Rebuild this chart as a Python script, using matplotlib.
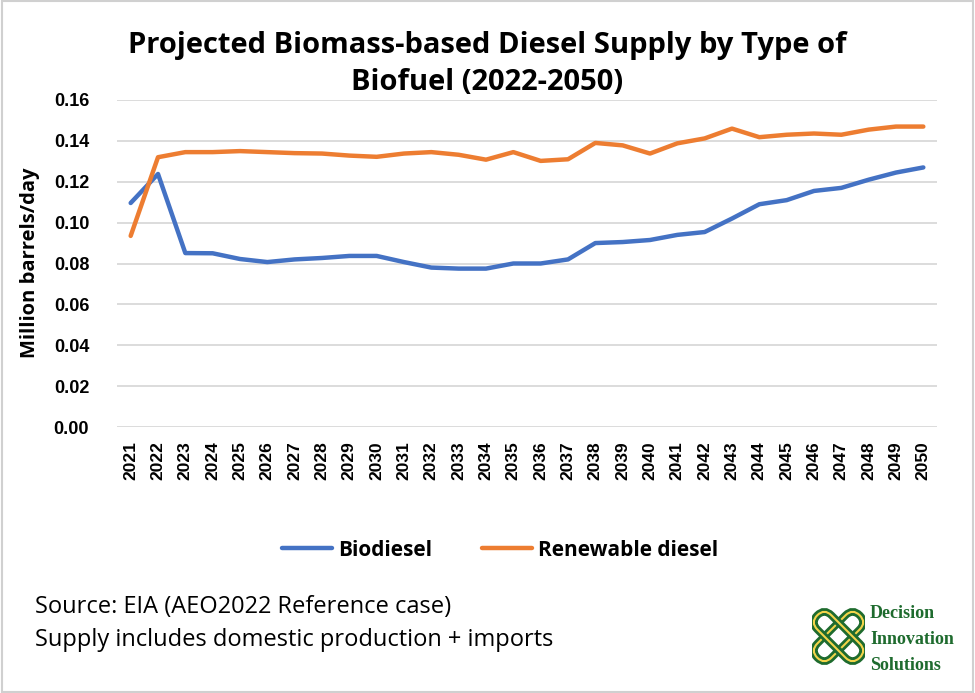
import matplotlib.pyplot as plt
from matplotlib.patches import FancyBboxPatch, Rectangle
import matplotlib.transforms as mtransforms

years = list(range(2021, 2051))
biodiesel = [0.1096, 0.1238, 0.0851, 0.0850, 0.0822, 0.0807, 0.0820, 0.0827, 0.0837, 0.0837,
             0.0807, 0.0780, 0.0775, 0.0775, 0.0800, 0.0800, 0.0820, 0.0900, 0.0905, 0.0915,
             0.0940, 0.0954, 0.1020, 0.1090, 0.1110, 0.1155, 0.1170, 0.1210, 0.1245, 0.1270]
renewable = [0.0935, 0.1320, 0.1345, 0.1345, 0.1350, 0.1345, 0.1340, 0.1338, 0.1328, 0.1322,
             0.1338, 0.1345, 0.1332, 0.1308, 0.1345, 0.1302, 0.1310, 0.1390, 0.1378, 0.1338,
             0.1388, 0.1412, 0.1460, 0.1418, 0.1430, 0.1436, 0.1430, 0.1455, 0.1470, 0.1470]
yticks = [0.00, 0.02, 0.04, 0.06, 0.08, 0.10, 0.12, 0.14, 0.16]

blue = '#4472C4'
orange = '#ED7D31'
grid = '#D9D9D9'

W, H = 975, 693
fig = plt.figure(figsize=(W / 100, H / 100), dpi=100)
fig.patch.set_facecolor('white')

# outer frame
fig.add_artist(Rectangle((0.002, 0.002), 0.996, 0.996, transform=fig.transFigure,
                         fill=False, edgecolor='#D0D0D0', linewidth=1.5))

ax = fig.add_axes([117 / W, 1 - 427 / H, (937 - 117) / W, (427 - 100) / H])
x = list(range(len(years)))
ax.plot(x, biodiesel, color=blue, linewidth=3.2, solid_capstyle='round', label='Biodiesel')
ax.plot(x, renewable, color=orange, linewidth=3.2, solid_capstyle='round', label='Renewable diesel')

ax.set_xlim(-0.5, len(years) - 0.5)
ax.set_ylim(0, 0.16)
ax.set_yticks(yticks)
ax.set_yticklabels(['%.2f' % v for v in yticks], fontsize=13, fontweight='bold',
                   family='Liberation Sans')
ax.set_xticks(x)
ax.set_xticklabels([str(y) for y in years], rotation=90, fontsize=12.5, fontweight='bold',
                   family='Liberation Sans')
ax.tick_params(axis='both', length=0)
ax.tick_params(axis='y', pad=20)
ax.tick_params(axis='x', pad=10)
ax.yaxis.grid(True, color=grid, linewidth=1.3)
ax.set_axisbelow(True)
for s in ax.spines.values():
    s.set_visible(False)

fig.text(30 / W, 1 - 263 / H, 'Million barrels/day', rotation=90, ha='center', va='center',
         fontsize=14.5, fontweight='bold', family='Open Sans')

fig.text(487 / W, 1 - 64 / H, 'Projected Biomass-based Diesel Supply by Type of\nBiofuel (2022-2050)',
         ha='center', va='center', fontsize=21, fontweight='bold', family='Open Sans',
         linespacing=1.4)

leg = fig.legend(loc='center', bbox_to_anchor=(500 / W, 1 - 550 / H), ncol=2, frameon=False,
                 prop={'family': 'Open Sans', 'weight': 'bold', 'size': 15},
                 handlelength=2.4, columnspacing=2.4, handletextpad=0.3)

fig.text(35 / W, 1 - 607 / H, 'Source: EIA (AEO2022 Reference case)', ha='left', va='center',
         fontsize=17, family='Open Sans')
fig.text(35 / W, 1 - 640 / H, 'Supply includes domestic production + imports', ha='left', va='center',
         fontsize=17, family='Open Sans')

# logo
green = '#1E6B2E'
gold = '#F2D44A'
lax = fig.add_axes([812 / W, 1 - 668 / H, 53 / W, 63 / H])
lax.set_xlim(0, 53)
lax.set_ylim(0, 63)
lax.axis('off')
for ang in (45, -45):
    tr = mtransforms.Affine2D().rotate_deg_around(26.5, 31.5, ang) + lax.transData
    box = (26.5 - 30, 31.5 - 10)
    outer = FancyBboxPatch(box, 60, 20, boxstyle='round,pad=0,rounding_size=10',
                           facecolor='none', edgecolor=green, linewidth=5.5, transform=tr)
    inner = FancyBboxPatch(box, 60, 20, boxstyle='round,pad=0,rounding_size=10',
                           facecolor='none', edgecolor=gold, linewidth=1.5, transform=tr)
    lax.add_patch(outer)
    lax.add_patch(inner)
for i, word in enumerate(['Decision', 'Innovation', 'Solutions']):
    fig.text(870 / W, 1 - (614 + i * 26) / H, word, ha='left', va='center', fontsize=13,
             fontweight='bold', family='Liberation Serif', color=green)

fig.savefig('out.png', dpi=100, facecolor='white')
